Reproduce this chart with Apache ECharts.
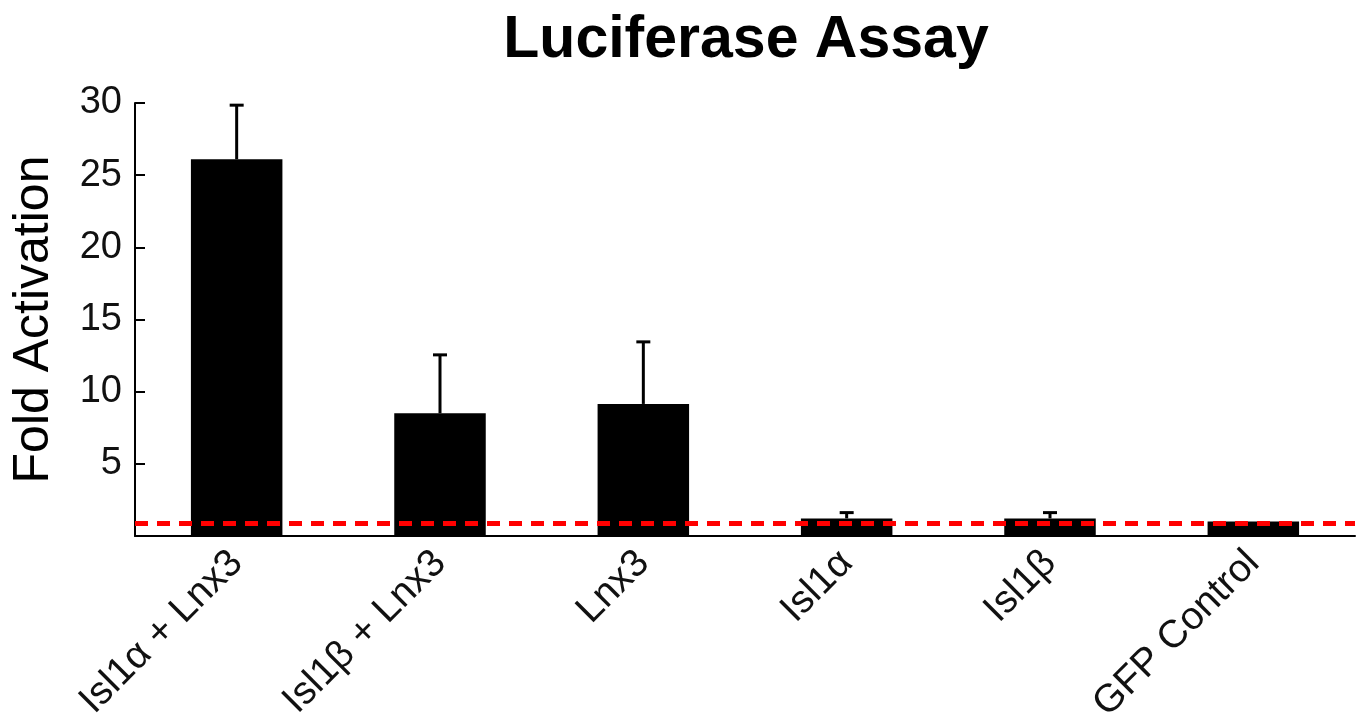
<!DOCTYPE html>
<html>
<head>
<meta charset="utf-8">
<script src="https://cdn.jsdelivr.net/npm/echarts@6/dist/echarts.min.js"></script>
<style>
  html, body { margin: 0; padding: 0; background: #fff; }
  #chart { width: 1363px; height: 723px; }
</style>
</head>
<body>
<div id="chart"></div>
<script>
const categories = ['Isl1α + Lnx3', 'Isl1β + Lnx3', 'Lnx3', 'Isl1α', 'Isl1β', 'GFP Control'];
const foldActivation = [26.1, 8.5, 9.15, 1.22, 1.22, 1.0];
const errorTop = [29.85, 12.55, 13.45, 1.62, 1.62, null];
const baselineValue = 0.85;

const chart = echarts.init(document.getElementById('chart'));

// [category index, bar value, upper error]
const errorData = errorTop.map(function (v, i) { return v == null ? null : [i, foldActivation[i], v]; })
  .filter(function (d) { return d; });

const option = {
  animation: false,
  title: {
    text: 'Luciferase Assay',
    left: 741,
    textAlign: 'center',
    top: 6,
    textStyle: { fontFamily: 'Liberation Sans', fontSize: 59, fontWeight: 'bold', color: '#000' }
  },
  grid: { left: 135, right: 8, top: 103, bottom: 187, outerBoundsMode: 'none' },
  xAxis: {
    type: 'category',
    data: categories,
    axisLine: { lineStyle: { color: '#000', width: 2 } },
    axisTick: { show: false },
    axisLabel: {
      rotate: 45,
      margin: 21,
      fontFamily: 'Liberation Sans',
      fontSize: 39,
      color: '#111'
    }
  },
  yAxis: {
    type: 'value',
    min: 0,
    max: 30,
    interval: 5,
    name: 'Fold Activation',
    nameLocation: 'middle',
    nameGap: 76,
    nameTextStyle: { fontFamily: 'Liberation Sans', fontSize: 50, color: '#000' },
    splitLine: { show: false },
    axisLine: { show: true, lineStyle: { color: '#000', width: 2 } },
    axisTick: { show: true, inside: true, length: 10, lineStyle: { color: '#000', width: 2 } },
    axisLabel: {
      margin: 13,
      fontFamily: 'Liberation Sans',
      fontSize: 38,
      color: '#111',
      formatter: function (v) { return v === 0 ? '' : v; }
    }
  },
  series: [
    {
      type: 'bar',
      data: foldActivation,
      barWidth: '45%',
      itemStyle: { color: '#000' },
      markLine: {
        silent: true,
        symbol: 'none',
        label: { show: false },
        z: 10,
        lineStyle: { color: '#ff0000', width: 5, type: [13, 9] },
        data: [{ yAxis: baselineValue }]
      }
    },
    {
      type: 'custom',
      z: 5,
      data: errorData,
      renderItem: function (params, api) {
        const low = api.coord([api.value(0), api.value(1)]);
        const high = api.coord([api.value(0), api.value(2)]);
        const capHalf = 7;
        return {
          type: 'group',
          children: [
            { type: 'line', shape: { x1: high[0], y1: low[1], x2: high[0], y2: high[1] },
              style: { stroke: '#000', lineWidth: 3 } },
            { type: 'line', shape: { x1: high[0] - capHalf, y1: high[1], x2: high[0] + capHalf, y2: high[1] },
              style: { stroke: '#000', lineWidth: 3 } }
          ]
        };
      }
    }
  ]
};

chart.setOption(option);
</script>
</body>
</html>
